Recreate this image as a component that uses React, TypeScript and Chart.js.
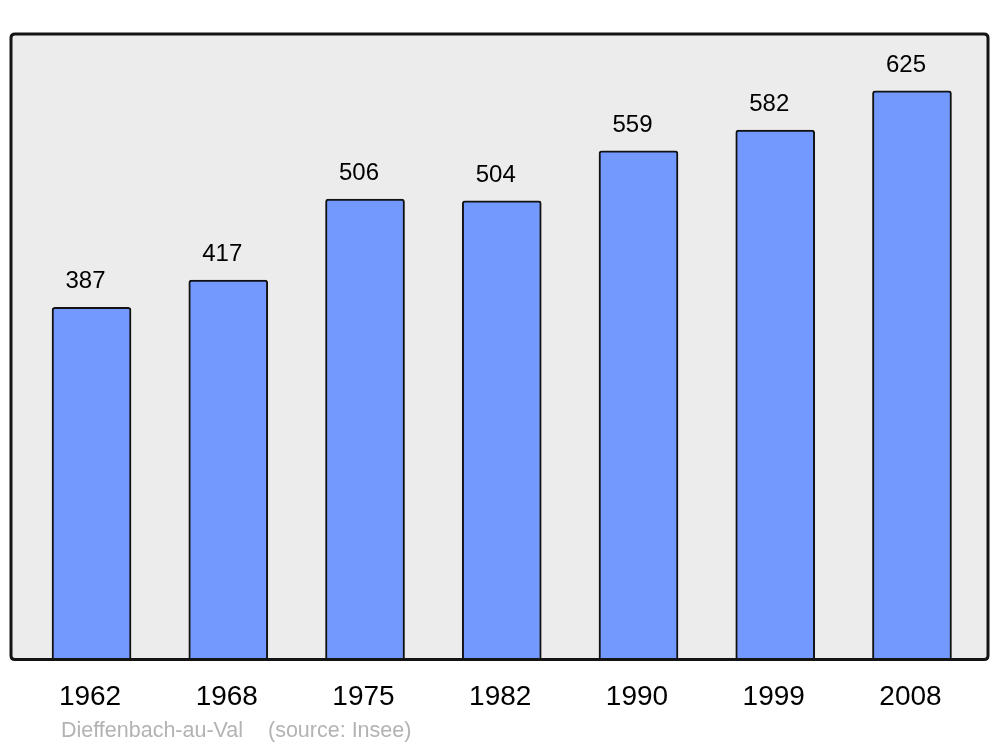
import React, { useEffect, useRef } from "react";
import { Chart, registerables } from "chart.js";

Chart.register(...registerables);

const years = ["1962", "1968", "1975", "1982", "1990", "1999", "2008"];
const population = [387, 417, 506, 504, 559, 582, 625];
const placeName = "Dieffenbach-au-Val";
const sourceText = "(source: Insee)";

const FONT = '"Liberation Sans", Arial, sans-serif';

function roundRect(ctx: CanvasRenderingContext2D, x: number, y: number, w: number, h: number, r: number) {
  ctx.beginPath();
  ctx.moveTo(x + r, y);
  ctx.lineTo(x + w - r, y);
  ctx.quadraticCurveTo(x + w, y, x + w, y + r);
  ctx.lineTo(x + w, y + h - r);
  ctx.quadraticCurveTo(x + w, y + h, x + w - r, y + h);
  ctx.lineTo(x + r, y + h);
  ctx.quadraticCurveTo(x, y + h, x, y + h - r);
  ctx.lineTo(x, y + r);
  ctx.quadraticCurveTo(x, y, x + r, y);
  ctx.closePath();
}

const framePlugin = {
  id: "frame",
  beforeDraw(chart: any) {
    const ctx = chart.ctx as CanvasRenderingContext2D;
    const a = chart.chartArea;
    ctx.save();
    ctx.fillStyle = "#ffffff";
    ctx.fillRect(0, 0, chart.width, chart.height);
    roundRect(ctx, a.left, a.top, a.right - a.left, a.bottom - a.top, 4);
    ctx.fillStyle = "#ececec";
    ctx.fill();
    ctx.restore();
  },
  afterDatasetsDraw(chart: any) {
    const ctx = chart.ctx as CanvasRenderingContext2D;
    const a = chart.chartArea;
    const xs = chart.scales.x;
    const ys = chart.scales.y;
    ctx.save();
    roundRect(ctx, a.left, a.top, a.right - a.left, a.bottom - a.top, 4);
    ctx.lineWidth = 3;
    ctx.strokeStyle = "#141414";
    ctx.stroke();

    // value labels
    ctx.fillStyle = "#000000";
    ctx.textAlign = "center";
    ctx.textBaseline = "alphabetic";
    ctx.font = `24px ${FONT}`;
    population.forEach((v, i) => {
      const x = xs.getPixelForValue(i);
      const y = ys.getPixelForValue(v);
      ctx.fillText(String(v), x - 6, y - 19);
    });

    // year tick labels
    ctx.font = `28px ${FONT}`;
    years.forEach((yr, i) => {
      const x = xs.getPixelForValue(i);
      ctx.fillText(yr, x - 1.5, 705);
    });

    // source line
    ctx.fillStyle = "#b3b3b3";
    ctx.textAlign = "left";
    ctx.font = `21.5px ${FONT}`;
    ctx.fillText(placeName, 61, 737);
    ctx.fillText(sourceText, 268, 737);
    ctx.restore();
  },
};

export default function App() {
  const ref = useRef<HTMLCanvasElement | null>(null);
  useEffect(() => {
    if (!ref.current) return;
    const chart = new Chart(ref.current, {
      type: "bar",
      data: {
        datasets: [
          {
            data: population.map((v, i) => ({ x: i, y: v })),
            backgroundColor: "#7399ff",
            borderColor: "#111111",
            borderWidth: 2,
            borderRadius: 3,
            barThickness: 79,
          },
        ],
      },
      options: {
        responsive: false,
        animation: false,
        layout: { padding: { left: 11, top: 34, right: 12, bottom: 87.5 } },
        plugins: { legend: { display: false }, tooltip: { enabled: false } },
        scales: {
          x: { type: "linear", display: false, offset: false, min: -0.589, max: 6.556, grid: { offset: false } },
          y: { display: false, min: 0, max: 687.5 },
        },
      },
      plugins: [framePlugin],
    });
    return () => chart.destroy();
  }, []);
  return (
    <div style={{ position: "absolute", left: 0, top: 0, width: 1000, height: 747 }}>
      <canvas ref={ref} width={1000} height={747} style={{ display: "block" }} />
    </div>
  );
}
